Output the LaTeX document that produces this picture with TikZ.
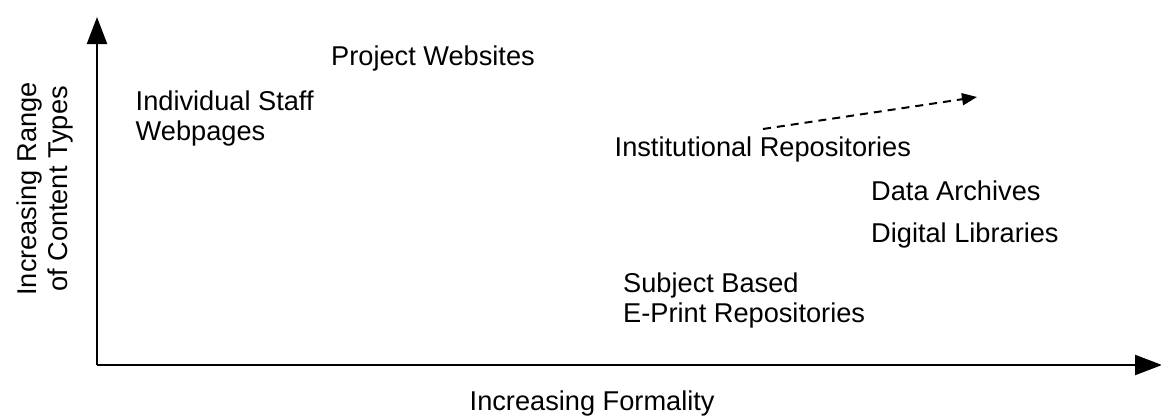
\documentclass[tikz,border=0pt]{standalone}
\usepackage{fontspec}
\setmainfont{Liberation Sans}
\usetikzlibrary{arrows.meta}
\tikzset{
  lbl/.style={inner sep=0pt, anchor=base west, align=left, font=\fontsize{27.2}{29.5}\selectfont},
  axis/.style={line width=2.2pt, -{Triangle[length=27pt,width=20pt]}},
  trend/.style={line width=2pt, dash pattern=on 8pt off 6pt, -{Triangle[length=15pt,width=12pt]}}
}
\begin{document}
\begin{tikzpicture}[x=1pt,y=-1pt]
\useasboundingbox (0,0) rectangle (1161,415);
\coordinate (O) at (97,365);
\coordinate (ytip) at (97,17);
\coordinate (xtip) at (1162,365);
\draw[axis] (O) -- (ytip);
\draw[axis] (O) -- (xtip);
\node[lbl] (proj) at (331,65) {Project Websites};
\node[lbl] (staff) at (135.5,140) {Individual Staff\\Webpages};
\node[lbl] (inst) at (614.5,156) {Institutional Repositories};
\node[lbl] (data) at (871,200) {Data Archives};
\node[lbl] (dig) at (871,242) {Digital Libraries};
\node[lbl] (subj) at (623,322) {Subject Based\\E-Print Repositories};
\node[lbl] (xlab) at (469.5,410) {Increasing Formality};
\node[inner sep=0pt, rotate=90, align=center, font=\fontsize{27.2}{31}\selectfont] (ylab) at (45,189) {Increasing Range\\of Content Types};
\coordinate (d1) at (763,129);
\coordinate (d2) at (977,97);
\draw[trend] (d1) -- (d2);
\end{tikzpicture}
\end{document}
